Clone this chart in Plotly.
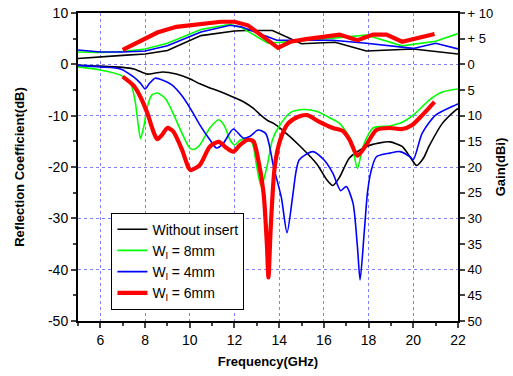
import plotly.graph_objects as go

# ---------------- data ----------------
# Reflection coefficient (dB)
f_black = [5.0, 6.0, 7.0, 7.5, 8.1, 8.45, 8.8, 9.4, 10.0, 10.45, 10.9, 11.35, 11.9, 12.4, 12.85, 13.2, 13.5,
           13.75, 14.2, 14.95, 15.7, 16.1, 16.4, 16.7, 17.15, 17.9, 18.5, 18.95, 19.5, 19.85, 20.15, 20.45,
           20.7, 21.3, 21.9, 22.0]
s_black = [-0.2, -0.35, -0.6, -0.9, -1.9, -1.7, -1.5, -1.9, -2.8, -3.8, -4.6, -5.3, -6.3, -7.3, -8.6, -10.0, -11.0,
           -11.5, -13.0, -16.0, -19.5, -22.3, -23.6, -22.0, -18.2, -16.0, -15.3, -15.1, -16.0, -18.0, -19.7, -18.3,
           -16.0, -11.5, -8.9, -8.6]

f_green = [5.0, 6.0, 6.9, 7.35, 7.55, 7.7, 7.8, 7.95, 8.1, 8.3, 8.55, 8.9, 9.25, 9.65, 10.0, 10.15, 10.45, 10.9,
           11.3, 11.55, 11.8, 12.0, 12.25, 12.55, 12.8, 13.0, 13.2, 13.45, 13.7, 13.95, 14.5, 15.1, 15.7, 16.3,
           16.7, 17.2, 17.5, 17.75, 18.2, 18.95, 19.5, 20.1, 20.7, 21.3, 22.0]
s_green = [-0.5, -1.1, -2.1, -3.7, -7.0, -12.0, -14.5, -12.0, -8.3, -6.0, -5.6, -6.6, -9.5, -13.4, -16.3, -16.6,
           -15.7, -12.4, -10.8, -12.0, -14.7, -15.7, -14.8, -14.4, -15.4, -20.0, -23.8, -20.0, -14.7, -12.4, -9.4,
           -8.8, -9.2, -10.5, -11.5, -14.7, -20.3, -16.0, -12.4, -12.0, -11.3, -9.5, -7.0, -5.4, -4.8]

f_blue = [5.0, 6.0, 6.9, 7.5, 7.8, 8.0, 8.2, 8.45, 8.8, 9.2, 9.7, 10.15, 10.45, 10.9, 11.2, 11.5, 11.95, 12.4,
          12.7, 13.05, 13.4, 13.75, 14.1, 14.35, 14.6, 14.75, 14.9, 15.5, 16.0, 16.4, 16.75, 17.0, 17.3, 17.5,
          17.62, 17.8, 17.95, 18.1, 18.35, 18.95, 19.4, 19.85, 20.0, 20.4, 21.0, 21.9, 22.0]
s_blue = [-0.2, -0.5, -0.9, -2.5, -3.7, -4.8, -3.7, -2.7, -3.1, -4.0, -6.4, -9.5, -11.8, -14.7, -16.3, -15.4,
          -12.6, -14.4, -14.0, -12.8, -13.5, -20.0, -26.0, -32.8, -25.8, -21.0, -18.6, -17.0, -18.6, -21.2, -24.6,
          -23.8, -27.0, -35.5, -42.0, -33.0, -25.0, -21.0, -18.0, -17.3, -17.0, -18.0, -18.6, -13.4, -9.9, -7.9, -7.7]

f_red = [7.0, 7.5, 7.8, 8.1, 8.4, 8.55, 8.75, 9.0, 9.25, 9.65, 9.95, 10.05, 10.45, 10.9, 11.3, 11.65, 11.95,
         12.25, 12.6, 12.85, 13.05, 13.3, 13.45, 13.52, 13.62, 13.8, 14.05, 14.4, 14.85, 15.25, 15.8, 16.4, 16.85,
         17.15, 17.5, 17.85, 18.35, 18.95, 19.5, 19.95, 20.4, 20.95]
s_red = [-2.4, -4.2, -6.4, -9.5, -13.4, -14.6, -13.8, -12.4, -13.0, -16.6, -20.2, -20.6, -19.6, -16.0, -15.1,
         -16.3, -17.0, -15.7, -14.7, -15.0, -18.3, -25.0, -35.0, -41.5, -32.0, -20.0, -14.7, -11.5, -10.2, -9.9,
         -11.2, -12.4, -13.0, -14.7, -17.8, -16.0, -12.8, -12.4, -12.6, -11.8, -9.9, -7.3]

# Gain (dBi)
g_black_f = [5, 6, 7, 8, 9, 10.5, 12, 12.5, 13.7, 15, 16.5, 17.9, 20, 22]
g_black = [1.15, 1.5, 1.75, 2.0, 2.7, 5.6, 6.5, 6.6, 6.6, 4.0, 4.3, 2.6, 3.0, 2.0]

g_green_f = [5, 6, 7, 8, 9, 10.5, 11.8, 12.3, 13.5, 14.5, 16.4, 17.9, 19.5, 21, 22]
g_green = [2.4, 2.3, 2.5, 3.0, 4.1, 6.8, 7.8, 7.2, 4.1, 4.4, 5.1, 5.7, 3.6, 4.5, 6.0]

g_blue_f = [5, 6, 7, 8, 9, 10.5, 11.8, 12.3, 13.9, 16.4, 17.9, 20, 21, 22]
g_blue = [2.8, 2.4, 2.4, 2.6, 3.6, 6.3, 7.6, 7.3, 4.7, 4.7, 4.1, 3.1, 4.1, 3.0]

g_red_f = [7.0, 8.55, 9.4, 10.5, 11.4, 12.0, 12.6, 13.95, 14.5, 15.2, 16.7, 17.5, 18.2, 18.8, 19.5, 20.95]
g_red = [2.8, 6.2, 7.3, 7.8, 8.3, 8.3, 7.6, 3.2, 4.4, 4.9, 5.8, 4.7, 5.8, 5.8, 4.4, 5.9]

names = ["Without insert", "W<sub>l</sub> = 8mm", "W<sub>l</sub> = 4mm", "W<sub>l</sub> = 6mm"]
colors = ["#000000", "#00ff00", "#0000ff", "#ff0000"]
widths = [1.6, 1.6, 1.6, 4.2]

x_ticks = [6, 8, 10, 12, 14, 16, 18, 20, 22]
y_vals = [10, 0, -10, -20, -30, -40, -50]
y_text = ["10", "0", "-10", "-20", "-30", "-40", "-50"]
y2_vals = [10, 5, 0, -5, -10, -15, -20, -25, -30, -35, -40, -45, -50]
y2_text = ["+ 10", "+ 5", "0", "5", "10", "15", "20", "25", "30", "35", "40", "45", "50"]

FONT = "Liberation Sans, Arial, sans-serif"

fig = go.Figure()
s11 = [(f_black, s_black), (f_green, s_green), (f_blue, s_blue), (f_red, s_red)]
gains = [(g_black_f, g_black), (g_green_f, g_green), (g_blue_f, g_blue), (g_red_f, g_red)]

for (gx, gy), c, w in zip(gains, colors, widths):
    fig.add_trace(go.Scatter(x=gx, y=gy, mode="lines", line=dict(color=c, width=w),
                             yaxis="y2", showlegend=False, hoverinfo="skip"))
for (fx, fy), n, c, w in zip(s11, names, colors, widths):
    fig.add_trace(go.Scatter(x=fx, y=fy, mode="lines", name=n,
                             line=dict(color=c, width=w, shape="spline", smoothing=0.7)))

fig.update_layout(
    width=513, height=376,
    margin=dict(l=78, r=55, t=13, b=55),
    paper_bgcolor="white", plot_bgcolor="white",
    font=dict(family=FONT, size=14, color="black"),
    showlegend=True,
    legend=dict(x=0.088, y=0.352, xanchor="left", yanchor="top",
                bgcolor="white", bordercolor="black", borderwidth=1,
                font=dict(size=14), tracegroupgap=0, itemwidth=30),
    xaxis=dict(range=[5, 22], tickvals=x_ticks, ticks="outside", ticklen=5, tickwidth=1.5,
               showline=True, linecolor="black", linewidth=2, mirror=True, automargin=False,
               showgrid=True, gridcolor="#8080ff", griddash="dot", gridwidth=1,
               zeroline=False,
               minor=dict(dtick=1, tick0=5, ticks="outside", ticklen=3, tickwidth=1.5, showgrid=False),
               title=dict(text="<b>Frequency(GHz)</b>", font=dict(size=13), standoff=10)),
    yaxis=dict(range=[-50, 10], tickvals=y_vals, ticktext=y_text, ticks="outside", ticklen=5, tickwidth=1.5,
               showline=True, linecolor="black", linewidth=2, mirror=True, automargin=False,
               ticklabeloverflow="allow",
               showgrid=True, gridcolor="#8080ff", griddash="dot", gridwidth=1,
               zeroline=False,
               minor=dict(dtick=5, tick0=0, ticks="outside", ticklen=3, tickwidth=1.5, showgrid=False),
               title=dict(text="<b>Reflection Coefficient(dB)</b>", font=dict(size=13), standoff=20)),
    yaxis2=dict(range=[-50, 10], overlaying="y", side="right", tickvals=y2_vals, ticktext=y2_text,
                ticks="outside", ticklen=5, tickwidth=1.5, showline=True, linecolor="black", linewidth=2,
                showgrid=False, zeroline=False, automargin=False, tickfont=dict(size=13),
                ticklabeloverflow="allow",
                title=dict(text="<b>Gain(dBi)</b>", font=dict(size=13), standoff=4)),
)

# remove the browser's default 8px page margin so the 513x376 figure fills the window
fig.write_html("out.html", config={"displayModeBar": False},
               post_script="document.body.style.margin='0';document.body.style.overflow='hidden';")
